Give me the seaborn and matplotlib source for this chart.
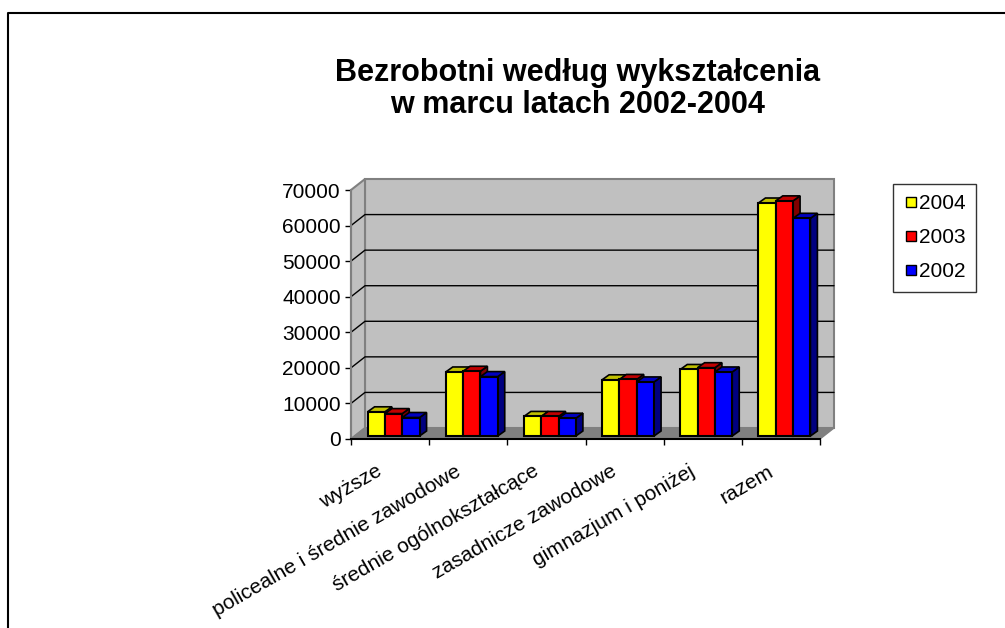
import pandas as pd
import seaborn as sns
import matplotlib.pyplot as plt
import matplotlib.transforms as mtransforms
from matplotlib.patches import Polygon
from matplotlib.lines import Line2D

# dane
kategorie = ['wyższe', 'policealne i średnie zawodowe', 'średnie ogólnokształcące',
             'zasadnicze zawodowe', 'gimnazjum i poniżej', 'razem']
lata = ['2004', '2003', '2002']
bezrobotni_2004 = [6800, 18000, 5500, 15800, 18700, 65500]
bezrobotni_2003 = [6300, 18200, 5500, 15900, 19200, 66100]
bezrobotni_2002 = [5200, 16700, 5000, 15200, 18000, 61200]
os_y = [0, 10000, 20000, 30000, 40000, 50000, 60000, 70000]

kolory = ['#ffff00', '#ff0000', '#0000ff']
kolory_gora = ['#c0c000', '#c00000', '#0000c0']
kolory_bok = ['#808000', '#800000', '#000080']

df = pd.DataFrame({
    'kategoria': kategorie * 3,
    'rok': [lata[0]] * 6 + [lata[1]] * 6 + [lata[2]] * 6,
    'liczba': bezrobotni_2004 + bezrobotni_2003 + bezrobotni_2002,
})

sns.set_style('white')
plt.rcParams['font.family'] = ['Liberation Sans', 'DejaVu Sans']
plt.rcParams['text.color'] = 'black'
plt.rcParams['xtick.color'] = 'black'
plt.rcParams['ytick.color'] = 'black'

fig = plt.figure(figsize=(10.05, 6.28), dpi=100)
ax = fig.add_axes([351 / 1005, 189 / 628, 469 / 1005, 249 / 628])
ax.set_facecolor('none')

sns.barplot(data=df, x='kategoria', y='liczba', hue='rok', hue_order=lata,
            palette=kolory, saturation=1, width=0.665, edgecolor='black',
            linewidth=1.5, legend=False, ax=ax)
ax.set_xlim(-0.5, 5.5)
ax.set_ylim(0, 70000)

# glebokosc "3D" w pikselach
GL = (14, 11)     # sciana tylna
PRZOD = (3.5, 3)  # przod slupka
SL = (7, 5)       # glebokosc slupka
ident = mtransforms.IdentityTransform()


def pkt(x, y, dx=0, dy=0):
    px, py = ax.transData.transform((x, y))
    return (px + dx, py + dy)


def wielokat(punkty, fc, ec, lw, z):
    p = Polygon(punkty, closed=True, facecolor=fc, edgecolor=ec, linewidth=lw,
                transform=ident, zorder=z, clip_on=False)
    ax.add_artist(p)


x0, x1 = -0.5, 5.5
top = os_y[-1]
# sciana tylna, boczna i podloga
wielokat([pkt(x0, 0, *GL), pkt(x1, 0, *GL), pkt(x1, top, *GL), pkt(x0, top, *GL)],
         '#c0c0c0', '#808080', 1.5, 0.1)
wielokat([pkt(x0, 0), pkt(x0, top), pkt(x0, top, *GL), pkt(x0, 0, *GL)],
         '#c0c0c0', '#808080', 1.5, 0.2)
wielokat([pkt(x0, 0), pkt(x1, 0), pkt(x1, 0, *GL), pkt(x0, 0, *GL)],
         '#808080', '#808080', 1, 0.3)

# linie siatki
for v in os_y[1:-1]:
    a, b, c = pkt(x0, v), pkt(x0, v, *GL), pkt(x1, v, *GL)
    ax.add_artist(Line2D([a[0], b[0], c[0]], [a[1], b[1], c[1]], transform=ident,
                         color='black', linewidth=1, zorder=0.25, clip_on=False))

# slupki z bokami i gorami
przes = ax.transData + mtransforms.ScaledTranslation(PRZOD[0] / 100, PRZOD[1] / 100,
                                                     fig.dpi_scale_trans)
bk = (PRZOD[0] + SL[0], PRZOD[1] + SL[1])
slupki = []
for i, kont in enumerate(ax.containers):
    for bar in kont:
        slupki.append((bar.get_x(), i, bar))
slupki.sort(key=lambda s: s[0])
for n, (xb, i, bar) in enumerate(slupki):
    z = 2 + n * 0.01
    w, h = bar.get_width(), bar.get_height()
    wielokat([pkt(xb + w, 0, *PRZOD), pkt(xb + w, h, *PRZOD), pkt(xb + w, h, *bk),
              pkt(xb + w, 0, *bk)], kolory_bok[i], 'black', 1.2, z)
    wielokat([pkt(xb, h, *PRZOD), pkt(xb + w, h, *PRZOD), pkt(xb + w, h, *bk),
              pkt(xb, h, *bk)], kolory_gora[i], 'black', 1.2, z)
    bar.set_transform(przes)
    bar.set_clip_on(False)
    bar.set_zorder(z + 0.005)

# osie
for s in ['top', 'right']:
    ax.spines[s].set_visible(False)
ax.spines['left'].set_color('#808080')
ax.spines['left'].set_linewidth(1.5)
ax.spines['bottom'].set_color('black')
ax.spines['bottom'].set_linewidth(1.5)
ax.spines['left'].set_zorder(5)
ax.spines['bottom'].set_zorder(5)

ax.set_yticks(os_y)
ax.set_yticklabels([str(v) for v in os_y])
ax.tick_params(axis='y', length=4.3, width=1, color='black', direction='out',
               labelsize=15, pad=3, left=True)
ax.set_xticks(range(len(kategorie)))
ax.set_xticklabels(kategorie, rotation=30, ha='right', rotation_mode='anchor',
                   fontsize=15)
ax.set_xticks([v - 0.5 for v in range(len(kategorie) + 1)], minor=True)
ax.tick_params(axis='x', which='major', length=0, pad=12)
ax.tick_params(axis='x', which='minor', length=4.3, width=1, color='black',
               direction='out', bottom=True)
przes_et = mtransforms.ScaledTranslation(-14 / 100, -6 / 100, fig.dpi_scale_trans)
for lab in ax.get_xticklabels():
    lab.set_transform(lab.get_transform() + przes_et)
ax.set_xlabel('')
ax.set_ylabel('')

fig.text(578 / 1005, 1 - 89 / 628, 'Bezrobotni według wykształcenia\nw marcu latach 2002-2004',
         ha='center', va='center', fontsize=22, fontweight='bold', linespacing=1.08,
         color='black')

uchwyty = [Line2D([], [], linestyle='none', marker='s', markersize=7.2,
                  markerfacecolor=k, markeredgecolor='black', markeredgewidth=1, label=l)
           for k, l in zip(kolory, lata)]
leg = fig.legend(handles=uchwyty, loc='upper left',
                 bbox_to_anchor=(893 / 1005, 1 - 184 / 628), frameon=True,
                 fancybox=False, edgecolor='black', fontsize=15, handlelength=0.7,
                 handletextpad=0.05, labelspacing=0.72, borderpad=0.5,
                 borderaxespad=0)
leg.get_frame().set_linewidth(1)

# ramka obszaru wykresu
fig.add_artist(Line2D([7.5 / 1005, 7.5 / 1005, 1.0], [0, 1 - 12.5 / 628, 1 - 12.5 / 628],
                      transform=fig.transFigure, color='black', linewidth=1.5))

fig.savefig('out.png', dpi=100)
